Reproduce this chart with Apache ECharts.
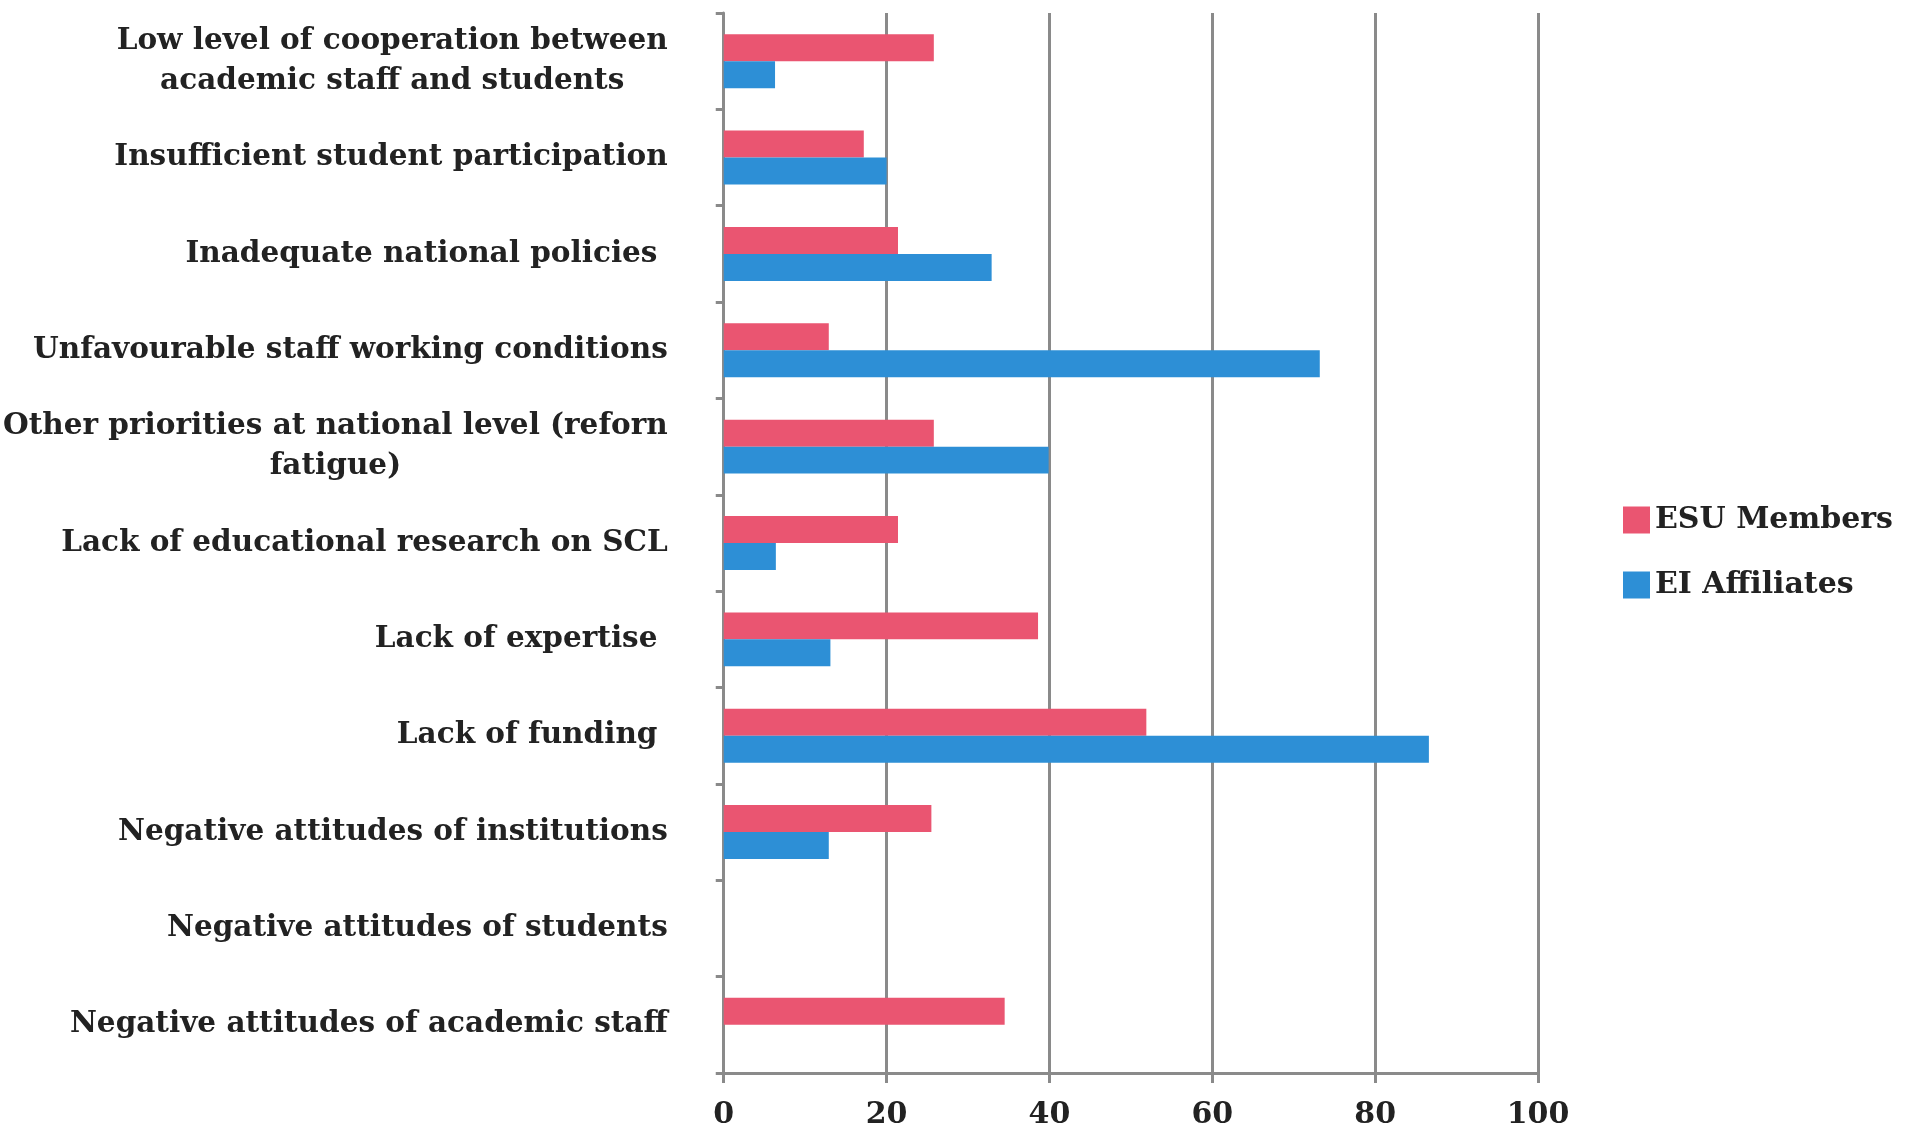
<!DOCTYPE html>
<html>
<head>
<meta charset="utf-8">
<script src="https://cdn.jsdelivr.net/npm/echarts@6/dist/echarts.min.js"></script>
<style>
html,body{margin:0;padding:0;background:#fff;}
#chart{width:1907px;height:1130px;}
</style>
</head>
<body>
<div id="chart"></div>
<script>
const categories = [
  "Low level of cooperation between\nacademic staff and students",
  "Insufficient student participation",
  "Inadequate national policies ",
  "Unfavourable staff working conditions",
  "Other priorities at national level (reforn\nfatigue)",
  "Lack of educational research on SCL",
  "Lack of expertise ",
  "Lack of funding ",
  "Negative attitudes of institutions",
  "Negative attitudes of students",
  "Negative attitudes of academic staff"
];
const esuMembers = [25.8, 17.2, 21.4, 12.9, 25.8, 21.4, 38.6, 51.9, 25.5, 0, 34.5];
const eiAffiliates = [6.3, 20.0, 32.9, 73.2, 39.9, 6.4, 13.1, 86.6, 12.9, 0, 0];
const xTicks = { min: 0, max: 100, interval: 20 };
const seriesNames = ["ESU Members", "EI Affiliates"];

const FONT = "DejaVu Serif";
const GREY = "#8a8a8a";
const TEXT = "#222222";

const chart = echarts.init(document.getElementById('chart'));
chart.setOption({
  backgroundColor: '#ffffff',
  animation: false,
  grid: { left: 722, right: 369, top: 13, bottom: 57, containLabel: false },
  legend: {
    data: seriesNames,
    orient: 'vertical',
    left: 1618,
    top: 497,
    icon: 'rect',
    itemWidth: 27,
    itemHeight: 27,
    itemGap: 29,
    textStyle: { fontFamily: FONT, fontWeight: 'bold', fontSize: 30, color: TEXT, lineHeight: 36 }
  },
  xAxis: {
    type: 'value',
    min: xTicks.min, max: xTicks.max, interval: xTicks.interval,
    axisLine: { show: true, lineStyle: { color: GREY, width: 3 } },
    axisTick: { show: true, length: 10, lineStyle: { color: GREY, width: 3 } },
    splitLine: { show: true, lineStyle: { color: GREY, width: 3 } },
    axisLabel: { margin: 27, fontFamily: FONT, fontWeight: 'bold', fontSize: 30, color: TEXT }
  },
  yAxis: {
    type: 'category',
    inverse: true,
    data: categories,
    axisLine: { show: true, lineStyle: { color: GREY, width: 3 } },
    axisTick: { show: true, length: 8, lineStyle: { color: GREY, width: 3 } },
    splitLine: { show: false },
    axisLabel: {
      margin: 56,
      fontFamily: FONT, fontWeight: 'bold', fontSize: 29.5, color: TEXT, lineHeight: 40,
      formatter: function (v) {
        return v.split('\n').map(function (l) { return '{c|' + l + '}'; }).join('\n');
      },
      rich: {
        c: { align: 'center', fontFamily: FONT, fontWeight: 'bold', fontSize: 29.5, color: TEXT, lineHeight: 40 }
      }
    }
  },
  series: [
    { name: seriesNames[0], type: 'bar', data: esuMembers, barGap: '0%', barCategoryGap: '44%',
      itemStyle: { color: '#EA5571' } },
    { name: seriesNames[1], type: 'bar', data: eiAffiliates, barGap: '0%', barCategoryGap: '44%',
      itemStyle: { color: '#2D8FD6' } }
  ]
});
</script>
</body>
</html>
